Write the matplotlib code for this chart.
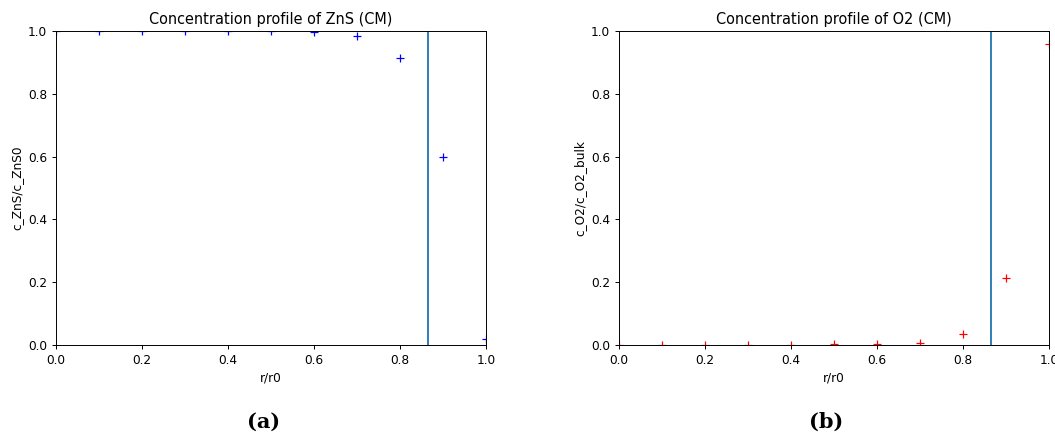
import matplotlib
matplotlib.use("Agg")
import matplotlib.pyplot as plt

# 半徑位置 r/r0
r = [0.0, 0.1, 0.2, 0.3, 0.4, 0.5, 0.6, 0.7, 0.8, 0.9, 1.0]
# ZnS 濃度 (c_ZnS/c_ZnS0)
c_zns = [1.0, 1.0, 1.0, 1.0, 1.0, 1.0, 0.998, 0.985, 0.913, 0.600, 0.020]
# O2 濃度 (c_O2/c_O2_bulk)
c_o2 = [0.0, 0.0002, 0.0004, 0.0008, 0.0015, 0.003, 0.002, 0.006, 0.035, 0.212, 0.960]
# 反應界面位置
r_front = 0.866

# 原圖是縮小過的，所以字體和線條都縮小一點
s = 0.87
plt.rcParams.update({
    "font.size": 10 * s,
    "axes.titlesize": 12 * s,
    "axes.linewidth": 0.8 * s,
    "xtick.major.size": 3.5 * s,
    "ytick.major.size": 3.5 * s,
    "xtick.major.width": 0.8 * s,
    "ytick.major.width": 0.8 * s,
    "axes.titlepad": 6 * s,
    "axes.labelpad": 4 * s,
})

fig = plt.figure(figsize=(10.55, 4.37), dpi=100)
ax1 = fig.add_axes([56 / 1055, 1 - 345 / 437, 430 / 1055, 314 / 437])
ax2 = fig.add_axes([619 / 1055, 1 - 345 / 437, 430 / 1055, 314 / 437])

ax1.plot(r, c_zns, 'b+', markersize=6 * s, markeredgewidth=1.0 * s)
ax1.axvline(r_front, color='C0', linewidth=1.5 * s)
ax1.set_xlim(0, 1)
ax1.set_ylim(0, 1)
ax1.set_title("Concentration profile of ZnS (CM)")
ax1.set_xlabel("r/r0")
ax1.set_ylabel("c_ZnS/c_ZnS0")

ax2.plot(r, c_o2, 'r+', markersize=6 * s, markeredgewidth=1.0 * s)
ax2.axvline(r_front, color='C0', linewidth=1.5 * s)
ax2.set_xlim(0, 1)
ax2.set_ylim(0, 1)
ax2.set_title("Concentration profile of O2 (CM)")
ax2.set_xlabel("r/r0")
ax2.set_ylabel("c_O2/c_O2_bulk")

fig.text(264 / 1055, 1 - 422 / 437, "(a)", ha='center', va='center',
         family='DejaVu Serif', fontweight='bold', fontsize=15)
fig.text(826 / 1055, 1 - 422 / 437, "(b)", ha='center', va='center',
         family='DejaVu Serif', fontweight='bold', fontsize=15)

fig.savefig("out.png", dpi=100)
